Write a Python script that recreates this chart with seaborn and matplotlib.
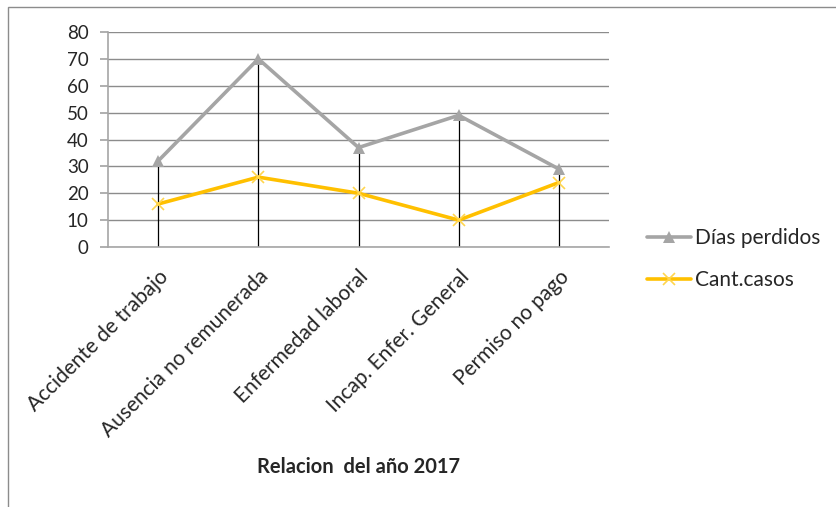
import numpy as np
import pandas as pd
import seaborn as sns
import matplotlib.pyplot as plt
from matplotlib.patches import Rectangle

# Daten
categorias = ['Accidente de trabajo', 'Ausencia no remunerada', 'Enfermedad laboral',
              'Incap. Enfer. General', 'Permiso no pago']
dias_perdidos = [32, 70, 37, 49, 29]
cant_casos = [16, 26, 20, 10, 24]

sns.set_theme(style='white')
plt.rcParams['font.family'] = ['Lato', 'DejaVu Sans']

df = pd.DataFrame({'cat': categorias, 'Días perdidos': dias_perdidos, 'Cant.casos': cant_casos})
pos = np.arange(len(categorias))

fig = plt.figure(figsize=(8.36, 5.07), dpi=100)
ax = fig.add_axes([0.1292, 0.5128, 0.5993, 0.4241])

# Linien vom Maximum bis zur Achse
top = df[['Días perdidos', 'Cant.casos']].max(axis=1)
ax.vlines(pos, 0, top, color='black', lw=0.9, zorder=2)

sns.lineplot(x=pos, y=df['Días perdidos'], ax=ax, color='#A5A5A5', lw=2.6,
             marker='^', markersize=8, markeredgewidth=0, label='Días perdidos', zorder=3)
sns.lineplot(x=pos, y=df['Cant.casos'], ax=ax, color='#FFC000', lw=2.6,
             marker='x', markersize=9, markeredgewidth=1.2, markeredgecolor='#FFD54F',
             label='Cant.casos', zorder=3)

ax.set_xlim(-0.5, len(categorias) - 0.5)
ax.set_ylim(0, 80)
ax.set_yticks(range(0, 81, 10))
ax.yaxis.grid(True, color='#8C8C8C', lw=1)
ax.set_axisbelow(True)
for s in ['top', 'right']:
    ax.spines[s].set_visible(False)
ax.spines['left'].set_color('#A6A6A6')
ax.spines['bottom'].set_color('#A6A6A6')
ax.spines['left'].set_linewidth(1.2)
ax.spines['bottom'].set_linewidth(1.2)
ax.tick_params(axis='y', left=True, length=6, color='#A6A6A6', labelsize=13.5, pad=8, labelcolor='#262626')
ax.tick_params(axis='x', bottom=False, pad=8)
ax.set_xticks(pos)
ax.set_xticklabels(categorias, rotation=45, ha='right', rotation_mode='anchor',
                   fontsize=15, color='#262626')
ax.set_ylabel('')
ax.set_xlabel('Relacion  del año 2017', fontsize=14.5, fontweight='bold', color='#262626')
ax.xaxis.set_label_coords(0.5, -1.023)
ax.xaxis.label.set_va('center')

ax.get_legend().remove()
h, l = ax.get_legend_handles_labels()
fig.legend(h, l, loc='center left', bbox_to_anchor=(0.751, 0.489), frameon=False,
           fontsize=15, handlelength=2.15, handletextpad=0.15, labelspacing=1.05,
           labelcolor='#262626')

fig.patches.append(Rectangle((8 / 836, -0.1), 1.2, 1 - 7 / 507 + 0.1, transform=fig.transFigure,
                             fill=False, edgecolor='#8C8C8C', lw=1))

fig.savefig('out.png', dpi=100)
